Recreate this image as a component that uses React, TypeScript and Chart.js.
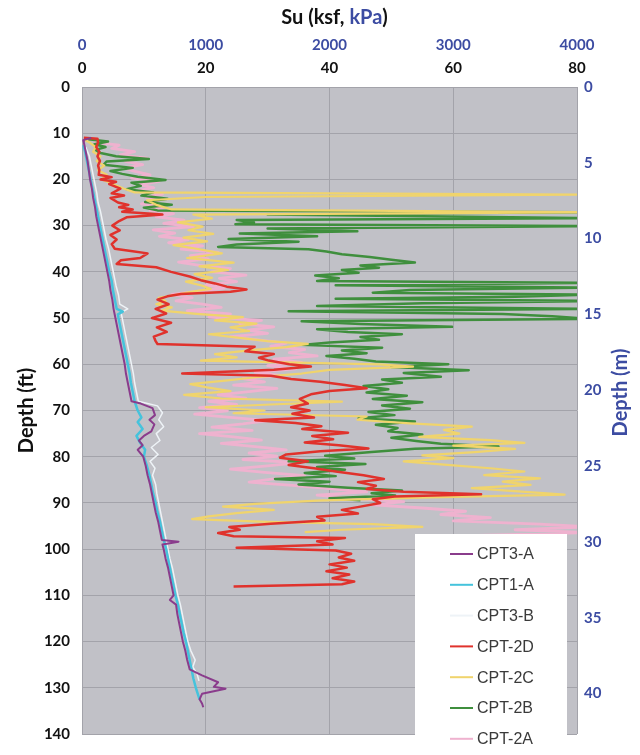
import React, { useEffect, useRef } from "react";
import { Chart, registerables } from "chart.js";

Chart.register(...registerables);

// ---- axis ticks ----
const KSF_TICKS = [0, 20, 40, 60, 80];
const KPA_TICKS = [0, 1000, 2000, 3000, 4000];
const FT_TICKS = [0, 10, 20, 30, 40, 50, 60, 70, 80, 90, 100, 110, 120, 130, 140];
const M_TICKS = [0, 5, 10, 15, 20, 25, 30, 35, 40];

const SERIES_NAMES = ["CPT3-A", "CPT1-A", "CPT3-B", "CPT-2D", "CPT-2C", "CPT-2B", "CPT-2A"];

// ---- series: [depth (ft), Su (ksf)] ----
const CPT3A: number[][] = [
  [11, 1.5], [11.5, 0.2], [12, 0.3], [14, 0.6], [16, 0.9], [18, 1.1], [20, 1.3], [22, 1.6], [24, 1.8], [26, 2.1],
  [28, 2.3], [30, 2.6], [32, 2.9], [34, 3.2], [36, 3.5], [38, 3.8], [40, 4.1], [42, 4.4], [44, 4.6], [46, 4.9],
  [48, 5.1], [50, 5.4], [52, 5.7], [54, 6.0], [56, 6.3], [58, 6.6], [60, 6.9], [62, 7.1], [64, 7.4], [66, 7.7],
  [68, 8.0], [68.5, 9.5], [69.5, 11.4], [71, 11.8], [72, 10.9], [73, 11.7], [74.5, 11.2], [75.5, 10.0], [76.5, 9.2],
  [77.5, 9.8], [78.5, 9.0], [80, 9.9], [82, 10.3], [84, 10.6], [86, 11.0], [88, 11.3], [90, 11.6], [92, 11.9],
  [94, 12.3], [96, 12.6], [98, 12.9], [98.4, 15.6], [99, 13.0], [100, 13.2], [102, 13.5], [104, 13.9], [106, 14.2],
  [108, 14.5], [110, 14.8], [111, 14.2], [112, 15.2], [114, 15.4], [116, 15.7], [118, 16.0], [120, 16.3], [122, 16.7],
  [124, 17.0], [126, 17.4], [127.3, 19.4], [128.8, 22.0], [129.8, 21.3], [130.2, 23.2], [131.3, 19.4], [132.5, 19.0],
  [133.4, 19.4], [134.2, 19.6],
];

const CPT1A: number[][] = [
  [12.6, 0.2], [14, 0.5], [16, 0.8], [18, 1.1], [20, 1.4], [22, 1.7], [24, 2.0], [26, 2.3], [28, 2.6], [30, 2.9],
  [32, 3.2], [34, 3.5], [36, 3.8], [38, 4.1], [40, 4.4], [42, 4.8], [44, 5.0], [46, 5.3], [48, 5.6], [48.6, 6.6],
  [49.2, 5.8], [50, 5.9], [52, 6.2], [54, 6.5], [56, 6.8], [58, 7.1], [60, 7.4], [62, 7.7], [64, 7.9], [66, 8.2],
  [68, 8.5], [70, 9.0], [71.5, 9.6], [72.5, 9.0], [74, 9.8], [75.5, 8.8], [77, 9.4], [78.5, 10.2], [80, 10.0],
  [82, 10.5], [84, 10.9], [86, 11.2], [88, 11.5], [90, 11.9], [92, 12.2], [94, 12.6], [96, 12.9], [98, 13.2],
  [100, 13.6], [102, 13.9], [104, 14.2], [106, 14.5], [108, 14.8], [110, 15.1], [112, 15.5], [114, 15.8],
  [116, 16.1], [118, 16.4], [120, 16.8], [122, 17.1], [124, 17.4], [126, 17.7], [128, 18.0], [130, 18.4], [132.5, 19.0],
];

const CPT3B: number[][] = [
  [13, 0.6], [15, 1.2], [17, 1.5], [19, 1.8], [21, 2.1], [23, 2.4], [25, 2.6], [27, 3.0], [29, 3.3], [31, 3.6],
  [33, 3.9], [35, 4.3], [37, 4.6], [39, 4.9], [41, 5.2], [43, 5.5], [45, 5.9], [47, 6.1], [48, 7.4], [48.8, 6.3],
  [50, 6.5], [52, 6.8], [54, 7.1], [56, 7.4], [58, 7.7], [60, 8.0], [62, 8.3], [64, 8.5], [66, 8.8], [68, 9.1],
  [69, 12.2], [70.5, 13.0], [72, 12.4], [73.5, 13.2], [75, 12.0], [76.5, 12.6], [78, 11.2], [79.5, 12.3], [81, 11.0],
  [82.5, 11.8], [84, 11.4], [86, 11.9], [88, 12.1], [90, 12.4], [92, 12.7], [94, 13.0], [96, 13.3], [98, 13.6],
  [100, 13.9], [102, 14.2], [104, 14.6], [106, 14.9], [108, 15.2], [110, 15.5], [112, 15.9], [114, 16.2], [116, 16.5],
  [118, 16.8], [120, 17.1], [122, 17.6], [124, 18.3], [125.5, 17.9], [127, 18.6], [128.5, 18.9],
];

const CPT2D: number[][] = [
  [11.0, 0.3], [11.2, 2.5], [12, 2.6], [13, 2.3], [14, 2.8], [15, 2.5], [16, 2.9], [17, 2.6], [18, 2.8], [19, 2.7],
  [19.5, 4.8], [20, 3.0], [20.5, 5.5], [21, 4.4], [22, 6.2], [23, 4.8], [23.5, 6.8], [24, 4.6], [25, 5.8], [25.5, 7.5],
  [26, 6.0], [26.5, 8.2], [27, 6.5], [27.6, 13.0], [28.2, 7.2], [29, 6.0], [30, 4.9], [31, 6.1], [32, 4.6], [33, 5.6],
  [34, 4.8], [35, 5.3], [35.5, 7.9], [36, 10.6], [37, 9.4], [37.5, 6.3], [38.3, 5.6], [39, 12.0], [40, 14.4],
  [41, 17.4], [41.8, 19.2], [42.5, 21.5], [43.2, 23.4], [43.8, 26.6], [44.3, 24.0], [44.8, 16.0], [45.3, 13.8],
  [46, 12.2], [47, 14.0], [48, 11.9], [49, 13.6], [50, 11.3], [51, 14.4], [52, 12.1], [53, 13.7], [54, 11.6],
  [55, 11.9], [55.6, 12.2], [56.2, 27.9], [57.2, 26.4], [57.8, 31.0], [58.6, 28.6], [59.2, 30.2], [60, 33.5],
  [60.5, 37.0], [61.2, 31.0], [62, 16.2], [62.5, 30.5], [63.2, 33.8], [63.8, 38.5], [64.5, 42.5], [65.2, 46.0],
  [65.8, 40.0], [66.5, 37.0], [67.5, 35.2], [68.5, 36.5], [69.3, 33.8], [70, 36.8], [70.7, 34.0], [71.5, 37.5],
  [72.1, 28.0], [72.7, 34.5], [73.4, 38.7], [74, 35.6], [74.8, 43.0], [75.5, 37.2], [76.2, 40.6], [76.9, 36.0],
  [77.5, 41.5], [78.2, 46.3], [78.8, 38.5], [79.5, 33.0], [80.2, 32.0], [81, 36.5], [81.8, 33.4], [82.5, 37.5],
  [83.2, 41.0], [84, 45.5], [84.8, 48.8], [85.5, 44.6], [86.3, 47.5], [87, 46.0], [87.6, 52.0], [88.1, 64.5],
  [88.6, 50.5], [89.2, 47.0], [90, 48.2], [90.8, 45.0], [91.5, 42.0], [92.3, 44.6], [93, 38.0], [93.8, 39.2],
  [94.5, 30.5], [95.2, 23.8], [95.8, 25.5], [96.5, 22.0], [97.2, 24.5], [97.6, 42.5], [98.3, 38.0], [99, 40.5],
  [99.7, 25.0], [100.3, 41.0], [101, 43.5], [101.8, 41.5], [102.5, 44.0], [103.3, 40.0], [104, 42.8], [104.8, 39.5],
  [105.5, 43.2], [106.3, 40.5], [107, 44.0], [107.6, 42.0], [108.1, 24.5],
];

const CPT2C: number[][] = [
  [11.5, 0.5], [12, 1.2], [13, 2.2], [14, 1.8], [15, 3.0], [16, 2.4], [17, 3.6], [18, 2.6], [19, 4.0], [20, 3.2],
  [21, 5.0], [22, 6.8], [22.8, 8.5], [23.3, 82], [23.8, 20], [24.5, 10.5], [25.5, 12], [26.5, 14.5], [27.1, 82],
  [27.6, 18], [28.5, 21], [29.3, 15.5], [30.2, 19.5], [31, 17.2], [31.8, 21.2], [32.6, 16.4], [33.4, 20.2],
  [34.2, 14.8], [35, 18.5], [36, 22.6], [37, 17.0], [38, 24.5], [38.8, 19.0], [39.6, 23.6], [40.5, 18.2], [41.3, 21.0],
  [42.1, 16.8], [43, 19.5], [43.7, 20.8], [44.3, 17.6], [45, 15.0], [45.6, 12.4], [46.3, 13.5], [47, 12.0],
  [47.7, 14.5], [48.4, 12.8], [49.1, 18.5], [49.8, 26.0], [50.5, 21.5], [51.2, 28.2], [52, 24.0], [52.8, 27.0],
  [53.5, 20.5], [54.3, 25.5], [55, 30.0], [55.6, 36.5], [56.3, 33.0], [57, 27.0], [57.8, 21.5], [58.5, 25.0],
  [59.2, 19.2], [60, 48.0], [60.5, 53.5], [61.2, 40.0], [62, 35.5], [62.8, 28.0], [63.5, 23.5], [64.3, 17.5],
  [65, 20.2], [65.8, 24.0], [66.6, 16.5], [67.4, 22.5], [68.1, 42.0], [68.7, 30.5], [69.3, 20.0], [70, 29.5],
  [70.6, 24.5], [71.3, 46.0], [72, 44.5], [72.8, 53.0], [73.5, 63.0], [74.2, 58.5], [75, 61.0], [75.7, 54.5],
  [76.4, 66.0], [77, 71.5], [77.6, 60.0], [78.3, 70.0], [79, 63.5], [79.7, 55.0], [80.3, 60.0], [81, 52.0],
  [81.7, 58.5], [82.5, 66.0], [83.2, 71.5], [84, 65.0], [84.7, 74.0], [85.4, 68.0], [86.1, 72.5], [86.8, 63.0],
  [87.5, 70.5], [88.2, 78.0], [88.8, 56.0], [89.5, 38.0], [90.2, 28.0], [90.8, 22.8], [91.5, 31.0], [92.2, 25.0],
  [92.9, 20.5], [93.5, 17.8], [94.1, 30.0], [94.6, 47.0], [95.2, 55.0], [95.8, 42.0], [96.3, 36.0],
];

const CPT2B: number[][] = [
  [11.3, 1.0], [11.8, 4.2], [12.4, 2.0], [13, 3.8], [13.6, 2.2], [14.3, 3.0], [15, 5.5], [15.6, 10.8], [16.1, 4.0],
  [16.8, 3.5], [17.5, 8.2], [18.2, 4.6], [18.8, 6.5], [19.4, 9.0], [20.1, 13.5], [20.7, 8.0], [21.4, 9.5],
  [22.1, 7.2], [22.8, 11.5], [23.5, 9.6], [24.2, 13.8], [24.9, 10.2], [25.5, 14.5], [26.1, 10.0], [26.7, 12.2],
  [27.1, 82], [27.6, 30], [28.4, 82], [28.8, 25.0], [29.3, 27.8], [29.7, 24.8], [30.1, 82], [30.6, 30.0],
  [31.2, 44.5], [31.7, 25.5], [32.3, 38.0], [32.9, 23.7], [33.5, 35.0], [34.1, 25.0], [34.6, 22.0], [35.1, 36.6],
  [35.6, 39.5], [36.2, 42.0], [36.8, 46.5], [37.4, 50.0], [38.0, 53.8], [38.6, 45.0], [39.1, 48.0], [39.6, 42.0],
  [40.2, 44.7], [40.8, 37.7], [41.4, 41.5], [42.0, 38.0], [42.4, 82], [42.9, 41.0], [43.4, 82], [43.9, 53.0],
  [44.5, 47.0], [44.9, 82], [45.4, 70.0], [45.8, 41.0], [46.3, 82], [46.8, 55.0], [47.4, 38.0], [48.0, 82],
  [48.5, 33.4], [49.1, 68.0], [49.6, 76.0], [50.2, 82], [50.7, 35.5], [51.3, 45.0], [51.9, 59.8], [52.4, 38.0],
  [53.0, 43.0], [53.5, 51.7], [54.1, 45.0], [54.7, 48.0], [55.3, 40.0], [55.8, 35.5], [56.4, 48.5], [57.0, 42.0],
  [57.6, 46.0], [58.2, 39.5], [58.8, 44.0], [59.4, 47.5], [60.0, 59.2], [60.6, 50.0], [61.3, 62.5], [61.9, 52.0],
  [62.7, 58.0], [63.3, 48.5], [64.0, 51.7], [64.7, 45.5], [65.4, 49.5], [66.1, 46.0], [66.8, 52.5], [67.5, 47.0],
  [68.2, 55.0], [68.9, 48.5], [69.6, 53.0], [70.3, 46.3], [71.0, 50.5], [71.7, 44.7], [72.4, 53.8], [73.1, 47.5],
  [73.8, 51.0], [74.5, 49.5], [75.2, 55.0], [75.9, 50.0], [76.6, 54.0], [77.2, 58.0], [77.8, 67.3], [78.3, 53.8],
  [79.0, 46.8], [79.8, 39.3], [80.4, 44.0], [81.0, 33.4], [81.6, 45.8], [82.2, 38.0], [82.8, 42.5], [83.5, 36.0],
  [84.2, 41.0], [84.8, 31.2], [85.4, 40.0], [86.0, 35.0], [86.7, 43.0], [87.3, 51.7], [87.9, 46.8], [88.4, 50.6],
  [89.0, 40.0], [89.4, 45.0],
];

const CPT2A: number[][] = [
  [12, 2.0], [12.6, 6.0], [13.3, 4.8], [14, 8.5], [14.7, 6.2], [15.4, 10.5], [16.1, 7.0], [16.8, 9.8], [17.5, 6.8],
  [18.2, 8.4], [19, 11.0], [19.7, 8.0], [20.4, 12.5], [21.1, 9.3], [21.8, 11.6], [22.5, 8.8], [23.2, 13.0],
  [23.9, 10.4], [24.6, 12.2], [25.3, 9.6], [26, 13.5], [26.7, 11.0], [27.4, 14.8], [28.1, 12.0], [28.8, 16.5],
  [29.5, 13.2], [30.2, 18.0], [30.9, 11.5], [31.6, 15.0], [32.3, 12.5], [33.0, 17.2], [33.7, 14.0], [34.4, 19.5],
  [35.1, 16.0], [35.8, 22.0], [36.5, 17.5], [37.2, 20.4], [37.9, 15.6], [38.6, 19.0], [39.3, 24.0], [40.0, 21.0],
  [40.7, 26.5], [41.4, 22.2], [42.1, 25.0], [42.8, 20.0], [43.5, 23.0], [44.2, 18.5], [44.9, 14.5], [45.6, 17.8],
  [46.3, 15.2], [47.0, 19.5], [47.7, 22.5], [48.4, 17.0], [49.1, 24.0], [49.8, 20.5], [50.5, 29.0], [51.2, 25.5],
  [51.9, 31.0], [52.6, 26.8], [53.3, 30.0], [54.0, 24.0], [54.7, 28.5], [55.4, 33.0], [56.1, 30.5], [56.8, 36.0],
  [57.5, 33.5], [58.2, 38.0], [58.9, 31.0], [59.6, 35.5], [60.3, 30.0], [61.0, 34.5], [61.7, 28.0], [62.4, 32.0],
  [63.1, 26.0], [63.8, 29.5], [64.5, 24.5], [65.2, 31.5], [65.9, 27.0], [66.6, 22.0], [67.3, 26.5], [68.0, 20.5],
  [68.7, 25.0], [69.4, 19.0], [70.1, 23.5], [70.8, 18.2], [71.5, 24.0], [72.2, 30.0], [72.9, 26.0], [73.6, 21.0],
  [74.3, 27.5], [75.0, 19.0], [75.7, 24.5], [76.4, 29.0], [77.1, 22.5], [77.8, 28.0], [78.5, 33.0], [79.2, 27.0],
  [79.9, 31.5], [80.6, 26.0], [81.3, 35.0], [82.0, 30.0], [82.7, 24.0], [83.4, 29.5], [84.1, 36.0], [84.8, 31.0],
  [85.5, 27.0], [86.2, 34.0], [86.9, 40.0], [87.6, 46.0], [88.3, 38.0], [89.0, 44.0], [89.7, 52.0], [90.4, 47.0],
  [91.1, 55.0], [91.8, 62.0], [92.5, 58.0], [93.2, 66.0], [93.9, 60.0], [94.6, 74.0], [95.2, 82.0], [95.8, 70.0],
  [96.4, 82.0], [97.0, 64.0],
];

const SERIES_DATA = [CPT3A, CPT1A, CPT3B, CPT2D, CPT2C, CPT2B, CPT2A];
const SERIES_COLORS = ["#8a3c8c", "#45c3dc", "#eef3f7", "#e0322c", "#f0d46c", "#3f8f3d", "#efb2cf"];
const SERIES_WIDTHS = [2, 2.5, 1.5, 2.5, 2.2, 2.5, 2.8];

const BLUE = "#3c4ca2";
const GRID = "#a3a3aa";
const PLOT_BG = "#c1c1c7";
const FONT = "Lato";

const backgroundPlugin = {
  id: "plotBg",
  beforeDraw(chart: any) {
    const { ctx, chartArea: a } = chart;
    ctx.save();
    ctx.fillStyle = PLOT_BG;
    ctx.fillRect(a.left, a.top, a.right - a.left, a.bottom - a.top);
    ctx.restore();
  },
};

const textPlugin = {
  id: "texts",
  afterDraw(chart: any) {
    const { ctx, chartArea: a } = chart;
    ctx.save();
    // top title with two colours
    ctx.font = `bold 20px ${FONT}`;
    ctx.textBaseline = "middle";
    ctx.textAlign = "left";
    const parts = [
      { t: "Su (ksf, ", c: "#111" },
      { t: "kPa", c: BLUE },
      { t: ")", c: "#111" },
    ];
    const total = parts.reduce((s, p) => s + ctx.measureText(p.t).width, 0);
    let x = (a.left + a.right) / 2 + 5 - total / 2;
    for (const p of parts) {
      ctx.fillStyle = p.c;
      ctx.fillText(p.t, x, 18);
      x += ctx.measureText(p.t).width;
    }
    // left axis title
    ctx.textAlign = "center";
    ctx.save();
    ctx.translate(27, (a.top + a.bottom) / 2);
    ctx.rotate(-Math.PI / 2);
    ctx.fillStyle = "#111";
    ctx.fillText("Depth (ft)", 0, 0);
    ctx.restore();
    // right axis title
    ctx.save();
    ctx.translate(a.right + 44, (a.top + a.bottom) / 2 - 18);
    ctx.rotate(-Math.PI / 2);
    ctx.fillStyle = BLUE;
    ctx.fillText("Depth (m)", 0, 0);
    ctx.restore();

    // legend box
    const bx = a.right - 162;
    const by = a.bottom - 200;
    ctx.fillStyle = "#ffffff";
    ctx.fillRect(bx, by, 152, 216);
    ctx.font = `16px "Liberation Sans", Arial, sans-serif`;
    ctx.textAlign = "left";
    chart.data.datasets.forEach((ds: any, i: number) => {
      const yy = by + 20 + i * 30.8;
      ctx.strokeStyle = ds.borderColor;
      ctx.lineWidth = 2;
      ctx.beginPath();
      ctx.moveTo(bx + 35, yy);
      ctx.lineTo(bx + 58, yy);
      ctx.stroke();
      ctx.fillStyle = "#3a3a3a";
      ctx.fillText(ds.label, bx + 62, yy + 1);
    });
    ctx.restore();
  },
};

export default function App() {
  const ref = useRef<HTMLCanvasElement | null>(null);

  useEffect(() => {
    if (!ref.current) return;
    const datasets = SERIES_NAMES.map((name, i) => ({
      label: name,
      data: SERIES_DATA[i].map((p) => ({ x: p[1], y: p[0] })),
      borderColor: SERIES_COLORS[i],
      backgroundColor: SERIES_COLORS[i],
      borderWidth: SERIES_WIDTHS[i],
      showLine: true,
      pointRadius: 0,
      fill: false,
      tension: 0,
      borderJoinStyle: "round" as const,
      xAxisID: "x",
      yAxisID: "y",
    }));

    const tickFont = { family: FONT, weight: "bold" as const, size: 15 };
    const plain = (v: any) => String(v);

    const chart = new Chart(ref.current, {
      type: "scatter",
      data: { datasets },
      plugins: [backgroundPlugin, textPlugin],
      options: {
        responsive: false,
        animation: false,
        devicePixelRatio: 1,
        events: [],
        layout: { padding: { left: 0, right: 0, top: 0, bottom: 18 } },
        plugins: {
          legend: { display: false },
          tooltip: { enabled: false },
          title: { display: false },
        },
        scales: {
          x: {
            type: "linear",
            position: "top",
            min: 0,
            max: 80,
            weight: 0,
            afterFit: (s: any) => {
              s.height = 31;
            },
            afterBuildTicks: (s: any) => {
              s.ticks = KSF_TICKS.map((v) => ({ value: v }));
            },
            ticks: { color: "#111", font: tickFont, padding: 10, maxRotation: 0, callback: plain },
            grid: { color: GRID, lineWidth: 1, drawTicks: false },
            border: { display: false },
          },
          xk: {
            type: "linear",
            position: "top",
            min: 0,
            max: 4000,
            weight: 1,
            afterFit: (s: any) => {
              s.height = 56;
            },
            afterBuildTicks: (s: any) => {
              s.ticks = KPA_TICKS.map((v) => ({ value: v }));
            },
            ticks: { color: BLUE, font: tickFont, padding: 2, maxRotation: 0, callback: plain },
            grid: { display: false, drawTicks: false },
            border: { display: false },
          },
          y: {
            type: "linear",
            position: "left",
            reverse: true,
            min: 0,
            max: 140,
            afterFit: (s: any) => {
              s.width = 82;
            },
            afterBuildTicks: (s: any) => {
              s.ticks = FT_TICKS.map((v) => ({ value: v }));
            },
            ticks: { color: "#111", font: tickFont, padding: 12, callback: plain },
            grid: { color: GRID, lineWidth: 1, drawTicks: false },
            border: { display: false },
          },
          ym: {
            type: "linear",
            position: "right",
            reverse: true,
            min: 0,
            max: 140 * 0.3048,
            afterFit: (s: any) => {
              s.width = 63;
            },
            afterBuildTicks: (s: any) => {
              s.ticks = M_TICKS.map((v) => ({ value: v }));
            },
            ticks: { color: BLUE, font: tickFont, padding: 7, callback: plain },
            grid: { display: false, drawTicks: false },
            border: { display: false },
          },
        },
      },
    } as any);

    return () => chart.destroy();
  }, []);

  return (
    <div style={{ position: "absolute", left: 0, top: 0, width: 640, height: 755, background: "#fff" }}>
      <canvas ref={ref} width={640} height={755} style={{ display: "block" }} />
    </div>
  );
}
